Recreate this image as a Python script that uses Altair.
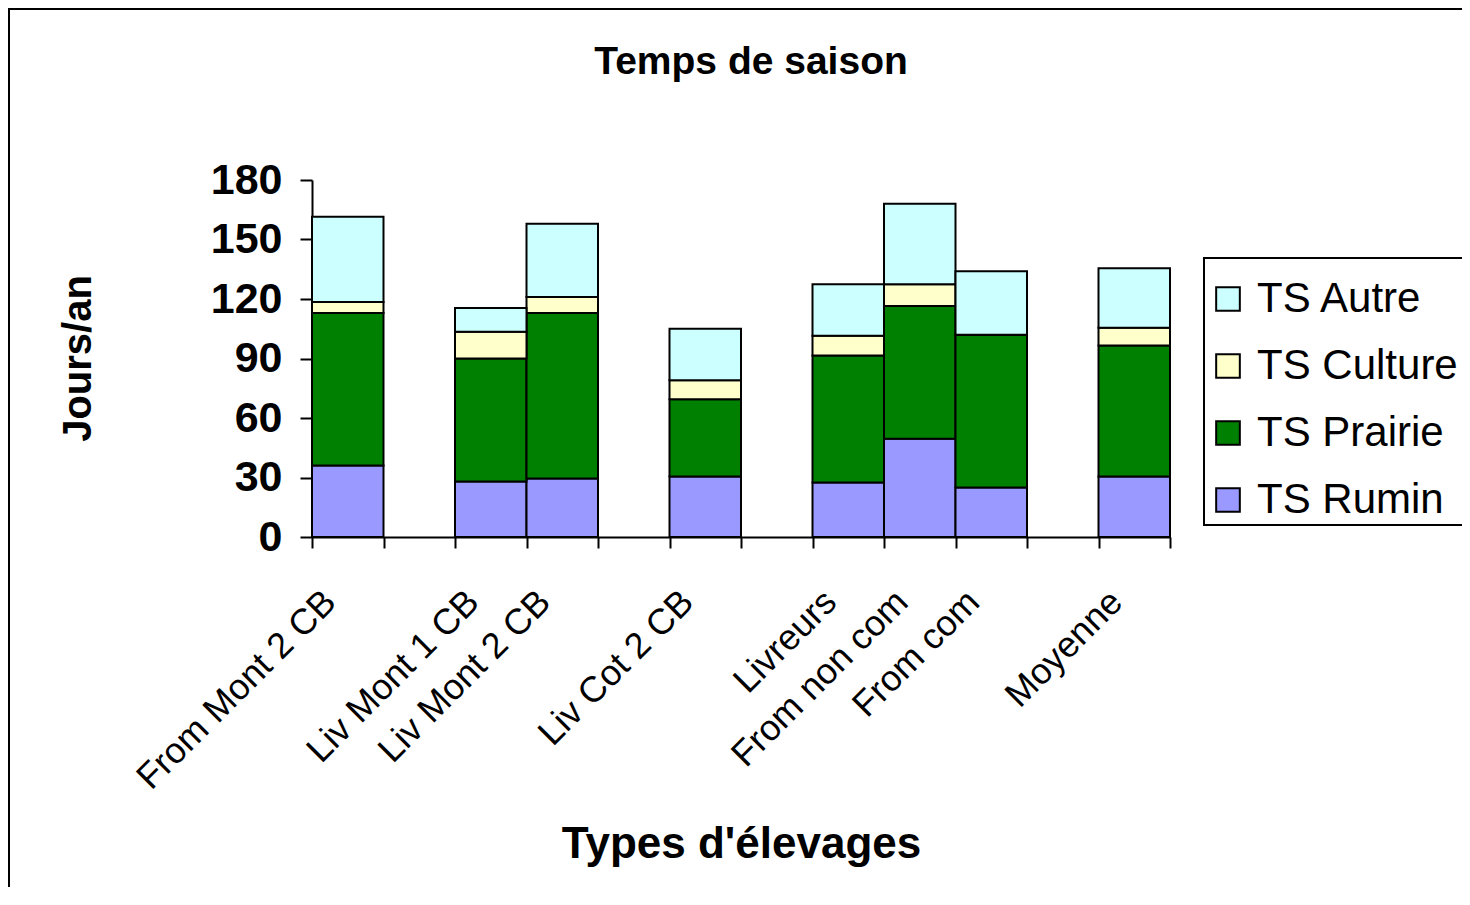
import altair as alt
import pandas as pd

categories = ["From Mont 2 CB", "Liv Mont 1 CB", "Liv Mont 2 CB", "Liv Cot 2 CB",
              "Livreurs", "From non com", "From com", "Moyenne"]
x_domain = ["From Mont 2 CB", "gap1", "Liv Mont 1 CB", "Liv Mont 2 CB", "gap2",
            "Liv Cot 2 CB", "gap3", "Livreurs", "From non com", "From com", "gap4", "Moyenne"]
ts_rumin = [36, 28, 29.5, 30.5, 27.5, 49.5, 25, 30.5]
ts_prairie = [77, 62, 83.5, 39, 64, 67, 77, 66]
ts_culture = [5.5, 13.5, 8, 9.5, 10, 11, 0, 9]
ts_autre = [43, 12, 37, 26, 26, 40.5, 32, 30]
series = ["TS Autre", "TS Culture", "TS Prairie", "TS Rumin"]
colors = ["#CCFFFF", "#FFFFCC", "#008000", "#9999FF"]
y_ticks = [0, 30, 60, 90, 120, 150, 180]
chart_title = "Temps de saison"

rows = []
for name, vals, order in [("TS Rumin", ts_rumin, 0), ("TS Prairie", ts_prairie, 1),
                          ("TS Culture", ts_culture, 2), ("TS Autre", ts_autre, 3)]:
    for c, v in zip(categories, vals):
        rows.append({"cat": c, "serie": name, "val": v, "ord": order})
df = pd.DataFrame(rows)

FONT = "Arial, Liberation Sans, sans-serif"
W, H = 858, 357

one = pd.DataFrame({"t": [chart_title]})

legend_box = alt.Chart(one).mark_rect(fill="white", stroke="black", strokeWidth=2).encode(
    x=alt.value(892), x2=alt.value(1300), y=alt.value(78), y2=alt.value(345))

bars = alt.Chart(df).mark_bar(stroke="black", strokeWidth=2).encode(
    x=alt.X("cat:N", scale=alt.Scale(domain=x_domain, paddingInner=0, paddingOuter=0),
            sort=x_domain,
            axis=alt.Axis(title="Types d'élevages", labelAngle=-45, labelAlign="right",
                          labelBaseline="middle", labelFontSize=36, labelFont=FONT,
                          labelPadding=48, labelOffset=-18, tickBand="extent",
                          labelExpr="indexof(datum.label, 'gap') == 0 ? '' : datum.label",
                          titleFontSize=44, titleFont=FONT, titleFontWeight="bold",
                          titleY=320, titleBaseline="alphabetic", labelOverlap=False,
                          labelLimit=0, tickSize=11, grid=False)),
    y=alt.Y("val:Q", stack="zero", scale=alt.Scale(domain=[0, 180], nice=False),
            axis=alt.Axis(title="Jours/an", values=y_ticks, labelFontSize=43,
                          labelFont=FONT, labelFontWeight="bold", labelPadding=18,
                          titleFontSize=40, titleFont=FONT, titleFontWeight="bold",
                          titleAngle=-90, titleX=-222, titleY=178, grid=False,
                          titleBaseline="alphabetic", titleAlign="center", tickSize=12)),
    color=alt.Color("serie:N", scale=alt.Scale(domain=series, range=colors),
                    legend=alt.Legend(orient="none", legendX=895, legendY=98, title=None,
                                      symbolType="square", symbolSize=560,
                                      symbolStrokeColor="black", symbolStrokeWidth=2,
                                      labelFontSize=42, labelFont=FONT, labelColor="black",
                                      padding=0, rowPadding=25, labelOffset=8,
                                      labelLimit=0)),
    order=alt.Order("ord:Q", sort="ascending"),
)

title_txt = alt.Chart(one).mark_text(fontSize=39, fontWeight="bold", font=FONT,
                                     baseline="alphabetic", align="center",
                                     color="black").encode(
    text="t:N", x=alt.value(439), y=alt.value(-106))

border = alt.Chart(one).mark_rule(color="black", strokeWidth=2).encode(
    x=alt.value(-303), y=alt.value(-172), y2=alt.value(800))
border_top = alt.Chart(one).mark_rule(color="black", strokeWidth=2).encode(
    x=alt.value(-304), x2=alt.value(1300), y=alt.value(-171))

chart = alt.layer(legend_box, bars, title_txt, border, border_top).properties(
    width=W, height=H,
    background="white",
    autosize=alt.AutoSizeParams(type="none"),
    padding={"left": 304, "top": 172, "right": 292, "bottom": 350},
).configure_view(strokeWidth=0, stroke="transparent").configure_axis(
    domainColor="black", domainWidth=2, tickColor="black", tickWidth=2,
    labelColor="black", titleColor="black", grid=False, zindex=1
)

chart.save("out.html", embed_options={"renderer": "svg", "actions": False})
